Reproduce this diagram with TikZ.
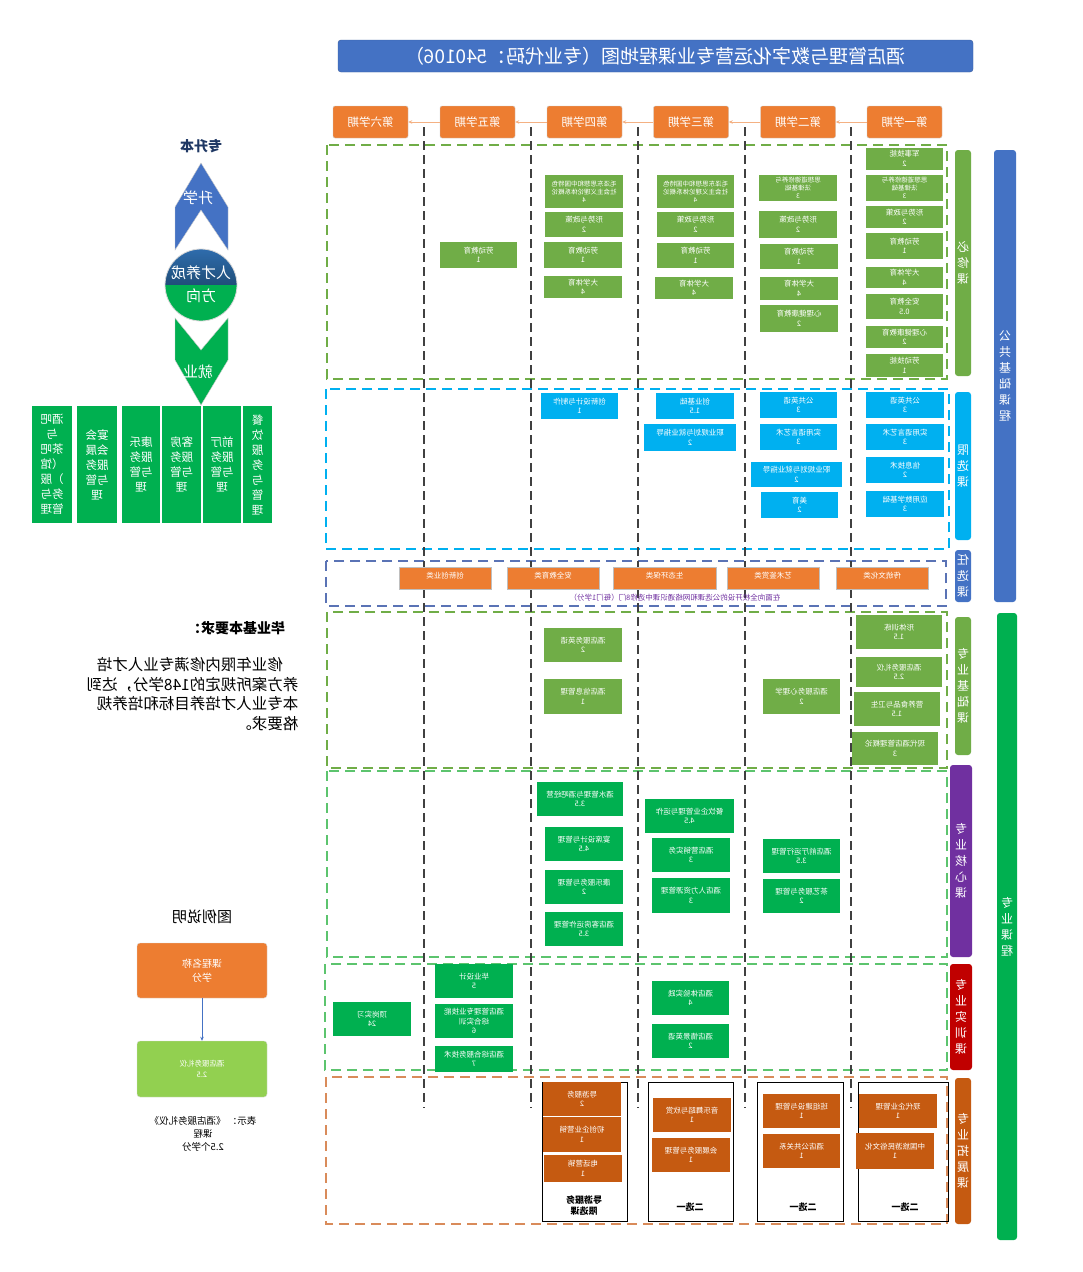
\documentclass[tikz,border=0pt]{standalone}
\usepackage{fontspec}
\setmainfont{Noto Sans CJK SC}
\usetikzlibrary{arrows.meta}
\definecolor{semor}{HTML}{ED7D31}
\definecolor{ttlblue}{HTML}{4472C4}
\definecolor{bxgreen}{HTML}{70AD47}
\definecolor{xxblue}{HTML}{00B0F0}
\definecolor{kgreen}{HTML}{00B050}
\definecolor{tzor}{HTML}{C55A11}
\definecolor{hxpurple}{HTML}{7030A0}
\definecolor{sxred}{HTML}{C00000}
\definecolor{lggreen}{HTML}{92D050}
\definecolor{navy}{HTML}{1F3864}
\definecolor{dashgreen}{HTML}{5CC46E}
\definecolor{dashor}{HTML}{D98B5A}
\definecolor{dashblue}{HTML}{5A73B5}
\definecolor{semline}{HTML}{F4B183}
\definecolor{cirtop}{HTML}{2F6DAE}
\definecolor{cirbot}{HTML}{1F4E79}
\tikzset{
  mir/.style={xscale=-1},
  sz/.style 2 args={minimum width=#1, minimum height=#2},
  ttl/.style={mir, fill=ttlblue, draw=ttlblue!80!black, rounded corners=3pt, text=white,
    font=\fontsize{19}{21}\selectfont, sz={635}{32}},
  sem/.style={mir, draw=gray!40, fill=semor, rounded corners=2pt, text=white,
    font=\fontsize{11.5}{13}\selectfont, sz={75}{32}},
  semarr/.style={draw=semline, line width=0.8pt, -{Stealth[length=4pt, width=3.5pt]}},
  crs/.style={mir, inner sep=1pt, align=center, text=white, font=\fontsize{7.5}{9.5}\selectfont},
  small3/.style={font=\fontsize{6.5}{8}\selectfont},
  bx/.style={crs, fill=bxgreen},
  xb/.style={crs, fill=xxblue},
  rx/.style={crs, fill=semor, draw=gray!50, text depth=5pt},
  kb/.style={crs, fill=kgreen},
  ob/.style={crs, fill=tzor},
  frm/.style={draw=black, line width=1pt},
  lab/.style={mir, align=center, font=\bfseries\fontsize{9}{11}\selectfont},
  region/.style={draw=#1, line width=1.2pt, dash pattern=on 10pt off 6pt},
  sepline/.style={draw=black!75, line width=1.1pt, dash pattern=on 9pt off 5pt},
  vbar/.style={mir, fill=#1, rounded corners=3pt, text=white, align=center, inner sep=0pt,
    font=\fontsize{12}{16}\selectfont},
  jb/.style={mir, fill=kgreen, text=white, align=center, inner sep=0pt,
    font=\fontsize{11.5}{15}\selectfont, minimum height=117},
  big/.style={mir, text=white, font=\fontsize{15}{18}\selectfont},
  lgtxt/.style={mir, align=center, font=\fontsize{9.5}{13}\selectfont},
}

\begin{document}
\begin{tikzpicture}[x=1pt, y=-1pt]
  \useasboundingbox (0,0) rectangle (1083,1272);
  \fill[white] (0,0) rectangle (1083,1272);

  % title and semesters
  \node[ttl] (title) at (655.5,56) {酒店管理与数字化运营专业课程地图（专业代码：540106）};
  \node[sem] (s1) at (904.5,122) {第一学期};
  \node[sem] (s2) at (798,122) {第二学期};
  \node[sem] (s3) at (691,122) {第三学期};
  \node[sem] (s4) at (584.5,122) {第四学期};
  \node[sem] (s5) at (477.5,122) {第五学期};
  \node[sem] (s6) at (370.5,122) {第六学期};
  \draw[semarr] (s1.east) -- (s2.west);
  \draw[semarr] (s2.east) -- (s3.west);
  \draw[semarr] (s3.east) -- (s4.west);
  \draw[semarr] (s4.east) -- (s5.west);
  \draw[semarr] (s5.east) -- (s6.west);

  % course groups
  \draw[region=bxgreen] (327,145) rectangle (947,379);
  \draw[region=xxblue] (326,389) rectangle (949,549);
  \draw[region=dashblue] (326,561) rectangle (946,606);
  \draw[region=bxgreen] (327,612) rectangle (947,768);
  \draw[region=dashgreen] (327,771) rectangle (947,957);
  \draw[region=dashgreen] (325,964) rectangle (947,1070);
  \draw[region=dashor] (326,1077) rectangle (947,1224);
  \foreach \cx in {424,531,638,745,851}
    \draw[sepline] (\cx,127) -- (\cx,1108);

  % 必修课
  \node[bx, sz={77}{22}] (b1a) at (904.5,158.5) {军事技能\\2};
  \node[bx, small3, sz={77}{26}] (b1b) at (904.5,188) {思想道德修养与\\法律基础\\3};
  \node[bx, sz={77}{22}] (b1c) at (904.5,217) {形势与政策\\2};
  \node[bx, sz={77}{26}] (b1d) at (904.5,246) {劳动教育\\1};
  \node[bx, sz={77}{21}] (b1e) at (904.5,277.5) {大学体育\\4};
  \node[bx, sz={77}{25}] (b1f) at (904.5,306.5) {安全教育\\0.5};
  \node[bx, sz={77}{22}] (b1g) at (904.5,337) {心理健康教育\\2};
  \node[bx, sz={77}{23}] (b1h) at (904.5,365.5) {劳动技能\\1};
  \node[bx, small3, sz={78}{26}] (b2a) at (798,188) {思想道德修养与\\法律基础\\3};
  \node[bx, sz={78}{27}] (b2b) at (798,224.5) {形势与政策\\2};
  \node[bx, sz={78}{25}] (b2c) at (799,256.5) {劳动教育\\1};
  \node[bx, sz={78}{23}] (b2d) at (799,288.5) {大学体育\\4};
  \node[bx, sz={78}{27}] (b2e) at (799,318.5) {心理健康教育\\2};
  \node[bx, small3, sz={77}{33}] (b3a) at (695.5,191.5) {毛泽东思想和中国特色\\社会主义理论体系概论\\4};
  \node[bx, sz={77}{25}] (b3b) at (695.5,224.5) {形势与政策\\2};
  \node[bx, sz={77}{25}] (b3c) at (695.5,255.5) {劳动教育\\1};
  \node[bx, sz={78}{22}] (b3d) at (694,288) {大学体育\\4};
  \node[bx, small3, sz={78}{33}] (b4a) at (584,191.5) {毛泽东思想和中国特色\\社会主义理论体系概论\\4};
  \node[bx, sz={78}{25}] (b4b) at (584,224.5) {形势与政策\\2};
  \node[bx, sz={78}{26}] (b4c) at (583,255) {劳动教育\\1};
  \node[bx, sz={78}{22}] (b4d) at (583,287) {大学体育\\4};
  \node[bx, sz={77}{26}] (b5a) at (478.5,255) {劳动教育\\1};

  % 限选课
  \node[xb, sz={78}{26}] (x1a) at (905,405) {公共英语\\3};
  \node[xb, sz={78}{26}] (x1b) at (905,437) {实用语言艺术\\3};
  \node[xb, sz={78}{26}] (x1c) at (905,470) {信息技术\\2};
  \node[xb, sz={78}{26}] (x1d) at (905,504) {应用数学基础\\3};
  \node[xb, sz={77}{26}] (x2a) at (798.5,405) {公共英语\\3};
  \node[xb, sz={77}{26}] (x2b) at (798.5,437) {实用语言艺术\\3};
  \node[xb, sz={91}{25}] (x2c) at (796.5,474.5) {职业规划与就业指导\\2};
  \node[xb, sz={77}{26}] (x2d) at (799.5,505) {美育\\2};
  \node[xb, sz={78}{26}] (x3a) at (695,406) {创业基础\\1.5};
  \node[xb, sz={92}{27}] (x3b) at (690,437.5) {职业规划与就业指导\\2};
  \node[xb, sz={77}{26}] (x4a) at (579.5,406) {创新设计与制作\\1};

  % 任选课
  \node[rx, sz={92}{22}] (r1) at (882,578) {传统文化类};
  \node[rx, sz={92}{22}] (r2) at (773,578) {艺术鉴赏类};
  \node[rx, sz={103}{22}] (r3) at (664.5,578) {生态环保类};
  \node[rx, sz={92}{22}] (r4) at (553,578) {安全教育类};
  \node[rx, sz={92}{22}] (r5) at (445,578) {创新创业类};
  \node[mir, text=hxpurple, font=\fontsize{7.5}{9}\selectfont] (rnote) at (675,598)
    {在面向全校开设的公选课和网络通识课中选修8门（每门1学分）};

  % 专业基础课
  \node[bx, sz={86}{34}] (g1a) at (899,632) {形体训练\\1.5};
  \node[bx, sz={86}{30}] (g1b) at (899,672) {酒店服务礼仪\\2.5};
  \node[bx, sz={86}{34}] (g1c) at (897,709) {营养食品与卫生\\1.5};
  \node[bx, sz={86}{33}] (g1d) at (895,748.5) {现代酒店管理概论\\3};
  \node[bx, sz={77}{35}] (g2a) at (801.5,696.5) {酒店服务心理学\\2};
  \node[bx, sz={78}{34}] (g4a) at (583,645) {酒店服务英语\\2};
  \node[bx, sz={78}{35}] (g4b) at (583,696.5) {酒店信息管理\\1};

  % 专业核心课
  \node[kb, sz={86}{34}] (k4a) at (580,799) {酒水管理与酒吧经营\\3.5};
  \node[kb, sz={78}{34}] (k4b) at (584,844) {宴席设计与管理\\4.5};
  \node[kb, sz={78}{34}] (k4c) at (584,887) {康乐服务与管理\\2};
  \node[kb, sz={78}{34}] (k4d) at (584,929) {酒店客房运作管理\\3.5};
  \node[kb, sz={89}{34}] (k3a) at (689.5,816) {餐饮企业管理与运作\\4.5};
  \node[kb, sz={78}{34}] (k3b) at (691,855) {酒店营销实务\\3};
  \node[kb, sz={78}{35}] (k3c) at (691,895.5) {酒店人力资源管理\\3};
  \node[kb, sz={77}{34}] (k2a) at (801.5,856) {酒店前厅运行管理\\3.5};
  \node[kb, sz={77}{34}] (k2b) at (801.5,896) {茶艺服务与管理\\2};

  % 专业实训课
  \node[kb, sz={78}{34}] (t6a) at (372,1019) {顶岗实习\\24};
  \node[kb, sz={78}{34}] (t5a) at (474,981) {毕业设计\\5};
  \node[kb, sz={78}{34}] (t5b) at (474,1021) {酒店管理专业技能\\综合实训\\6};
  \node[kb, sz={78}{26}] (t5c) at (474,1059) {酒店综合服务技术\\7};
  \node[kb, sz={77}{34}] (t3a) at (690.5,998) {酒店体验实践\\4};
  \node[kb, sz={77}{34}] (t3b) at (690.5,1041) {酒店情景英语\\2};

  % 专业拓展课
  \node[frm, sz={85}{139}] (f4) at (584.5,1151.5) {};
  \node[frm, sz={85}{139}] (f3) at (690.5,1151.5) {};
  \node[frm, sz={86}{139}] (f2) at (800,1151.5) {};
  \node[frm, sz={90}{139}] (f1) at (903,1151.5) {};
  \node[ob, sz={78}{34}] (o4a) at (582,1099) {导游服务\\2};
  \node[ob, sz={78}{35}] (o4b) at (582,1134.5) {初创企业营销\\1};
  \node[ob, sz={78}{27}] (o4c) at (583,1168.5) {电话营销\\1};
  \node[lab] (l4) at (584,1206) {导游服务\\限选课};
  \node[ob, sz={78}{34}] (o3a) at (692,1115) {音乐舞蹈与欣赏\\1};
  \node[ob, sz={78}{34}] (o3b) at (691,1155) {会展服务与管理\\1};
  \node[lab] (l3) at (690,1207) {二选一};
  \node[ob, sz={77}{34}] (o2a) at (801.5,1111) {班组建设与管理\\1};
  \node[ob, sz={77}{34}] (o2b) at (801.5,1151) {酒店公共关系\\1};
  \node[lab] (l2) at (803,1207) {二选一};
  \node[ob, sz={78}{34}] (o1a) at (898,1111) {现代企业管理\\1};
  \node[ob, sz={78}{36}] (o1b) at (895,1151) {中国旅游民俗文化\\1};
  \node[lab] (l1) at (905,1207) {二选一};

  % side bars
  \node[vbar=bxgreen, sz={16}{226}] (v1) at (963,263) {必\\修\\课};
  \node[vbar=xxblue, sz={16}{148}] (v2) at (963,466) {限\\选\\课};
  \node[vbar=ttlblue, sz={16}{52}] (v3) at (963,576) {任\\选\\课};
  \node[vbar=bxgreen, sz={16}{138}] (v4) at (963,686) {专\\业\\基\\础\\课};
  \node[vbar=hxpurple, sz={22}{192}] (v5) at (961,861) {专\\业\\核\\心\\课};
  \node[vbar=sxred, sz={22}{106}] (v6) at (961,1017) {专\\业\\实\\训\\课};
  \node[vbar=tzor, sz={16}{146}] (v7) at (963,1151) {专\\业\\拓\\展\\课};
  \node[vbar=ttlblue, sz={22}{452}] (v8) at (1005,376) {公\\共\\基\\础\\课\\程};
  \node[vbar=kgreen, sz={20}{627}] (v9) at (1007,926.5) {专\\业\\课\\程};

  % direction
  \node[mir, text=navy, font=\bfseries\fontsize{14}{16}\selectfont] (zsb) at (201,146) {专升本};
  \fill[ttlblue, draw=gray!40] (201,163) -- (228,207) -- (228,250) -- (201,210) -- (175,250) -- (175,207) -- cycle;
  \fill[kgreen, draw=gray!40] (175,318) -- (201,350) -- (228,318) -- (228,360) -- (201,405) -- (175,360) -- cycle;
  \begin{scope}
    \clip (201,285) circle[radius=36pt];
    \shade[top color=cirtop, bottom color=cirbot] (164,248) rectangle (238,285);
    \fill[kgreen] (164,285) rectangle (238,322);
  \end{scope}
  \draw[gray!30, line width=0.8pt] (201,285) circle[radius=36pt];
  \node[big] (sx) at (198,198) {升学};
  \node[big] (rc1) at (201,273) {人才养成};
  \node[big] (rc2) at (201,296) {方向};
  \node[big] (jy) at (198,372) {就业};
  \node[jb, minimum width=40] (e1) at (52,464.5) {酒吧\\与\\茶吧\\（馆\\）服\\务与\\管理};
  \node[jb, minimum width=40] (e2) at (97,464.5) {宴会\\会展\\服务\\与管\\理};
  \node[jb, minimum width=38] (e3) at (141,464.5) {康乐\\服务\\与管\\理};
  \node[jb, minimum width=39] (e4) at (181.5,464.5) {客房\\服务\\与管\\理};
  \node[jb, minimum width=38] (e5) at (222,464.5) {前厅\\服务\\与管\\理};
  \node[jb, minimum width=29] (e6) at (257.5,464.5) {餐\\饮\\服\\务\\与\\管\\理};

  % requirements and legend
  \node[mir, font=\bfseries\fontsize{14}{16}\selectfont] (reqt) at (236,628) {毕业基本要求：};
  \node[mir, align=left, inner sep=0pt, font=\fontsize{15.5}{19.5}\selectfont] (req) at (192.5,694)
    {\hspace*{1em}修业年限内修满专业人才培\\养方案所规定的148学分，达到\\本专业人才培养目标和培养规\\格要求。};
  \node[mir, font=\fontsize{15}{17}\selectfont] (lgt) at (202,917) {图例说明};
  \node[mir, fill=semor, draw=gray!30, rounded corners=3pt, text=white, align=center,
    font=\fontsize{10}{14}\selectfont, sz={130}{55}] (lgA) at (202,970.5) {课程名称\\学分};
  \node[mir, fill=lggreen, draw=gray!30, rounded corners=3pt, text=white, align=center,
    font=\fontsize{7.5}{11}\selectfont, sz={130}{56}] (lgB) at (202,1069) {酒店服务礼仪\\2.5};
  \draw[ttlblue, line width=0.8pt, -{Stealth[length=4pt, width=3.5pt]}] (lgA) -- (lgB);
  \node[lgtxt] (lgnote) at (203,1134) {表示：~《酒店服务礼仪》\\课程\\2.5个学分};
\end{tikzpicture}
\end{document}
